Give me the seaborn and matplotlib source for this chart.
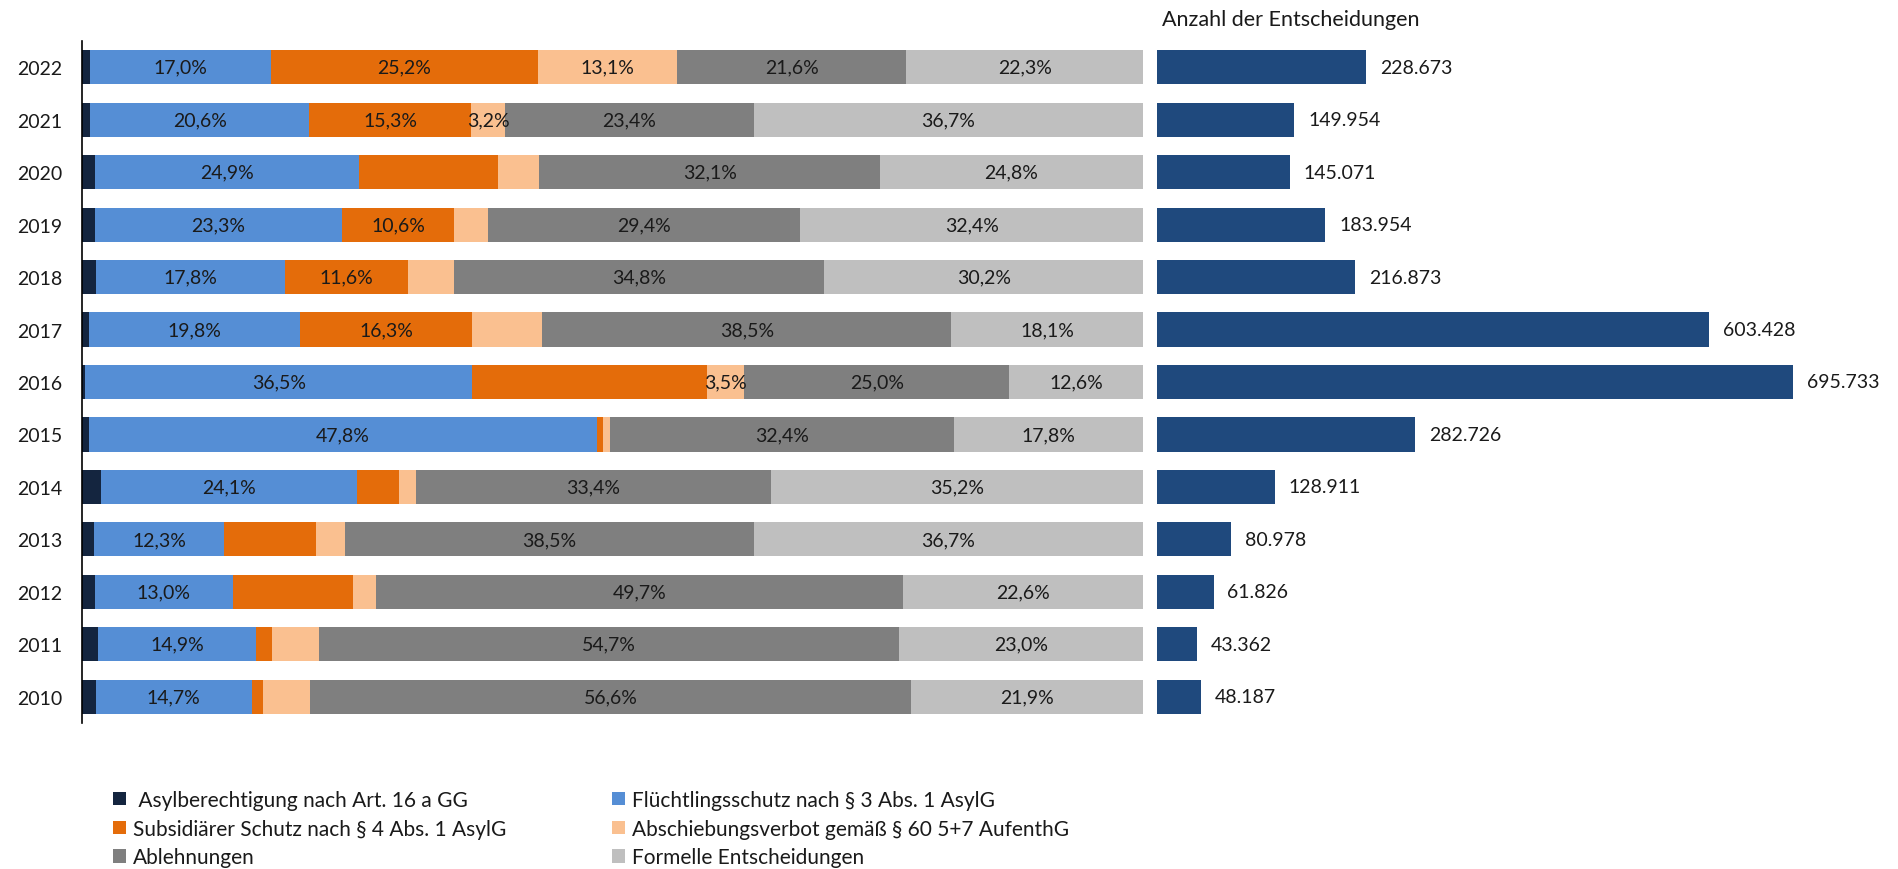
import numpy as np
import matplotlib
matplotlib.use("Agg")
import matplotlib.pyplot as plt
from matplotlib.patches import Patch
import seaborn as sns

# Decision years, newest on top
years = ["2022", "2021", "2020", "2019", "2018", "2017", "2016",
         "2015", "2014", "2013", "2012", "2011", "2010"]

# Shares of all decisions per year (%)
asyl = [0.8, 0.8, 1.2, 1.2, 1.3, 0.7, 0.3, 0.7, 1.8, 1.1, 1.2, 1.5, 1.3]
fluecht = [17.0, 20.6, 24.9, 23.3, 17.8, 19.8, 36.5, 47.8, 24.1, 12.3, 13.0, 14.9, 14.7]
subsid = [25.2, 15.3, 13.1, 10.6, 11.6, 16.3, 22.1, 0.6, 4.0, 8.7, 11.3, 1.5, 1.1]
abschieb = [13.1, 3.2, 3.9, 3.2, 4.4, 6.6, 3.5, 0.7, 1.6, 2.7, 2.2, 4.4, 4.4]
ablehn = [21.6, 23.4, 32.1, 29.4, 34.8, 38.5, 25.0, 32.4, 33.4, 38.5, 49.7, 54.7, 56.6]
formell = [22.3, 36.7, 24.8, 32.4, 30.2, 18.1, 12.6, 17.8, 35.2, 36.7, 22.6, 23.0, 21.9]

# Which segments carry a percentage label
show_asyl = [False] * 13
show_fluecht = [True] * 13
show_subsid = [True, True, False, True, True, True, False, False, False, False, False, False, False]
show_abschieb = [True, True, False, False, False, False, True, False, False, False, False, False, False]
show_ablehn = [True] * 13
show_formell = [True] * 13

# Total number of decisions per year
totals = [228673, 149954, 145071, 183954, 216873, 603428, 695733,
          282726, 128911, 80978, 61826, 43362, 48187]

names = ["Asylberechtigung nach Art. 16 a GG",
         "Flüchtlingsschutz nach § 3 Abs. 1 AsylG",
         "Subsidiärer Schutz nach § 4 Abs. 1 AsylG",
         "Abschiebungsverbot gemäß § 60 5+7 AufenthG",
         "Ablehnungen",
         "Formelle Entscheidungen"]
colors = ["#14253f", "#558ed5", "#e46c0a", "#fac090", "#7f7f7f", "#bfbfbf"]
total_color = "#1f497d"
text_color = "#1a1a1a"

sns.set_theme(style="white")
plt.rcParams["font.family"] = ["Lato", "DejaVu Sans"]

FS = 14
FS_TITLE = 15.5
FS_LEG = 15
W, H = 1898, 870
fig = plt.figure(figsize=(W / 100, H / 100), dpi=100)

top_px, bot_px = 42, 724
axL = fig.add_axes([82 / W, (H - bot_px) / H, 1061 / W, (bot_px - top_px) / H])
axR = fig.add_axes([1157 / W, (H - bot_px) / H, 733 / W, (bot_px - top_px) / H])

series = [asyl, fluecht, subsid, abschieb, ablehn, formell]
shown = [show_asyl, show_fluecht, show_subsid, show_abschieb, show_ablehn, show_formell]
cum = np.cumsum(np.array(series), axis=0)

# Stacked shares: draw cumulative totals from the outermost segment inwards
for k in reversed(range(len(series))):
    sns.barplot(x=cum[k], y=years, order=years, orient="h", color=colors[k],
                saturation=1, width=0.65, errorbar=None, linewidth=0, ax=axL)


def pct(v):
    return f"{v:.1f}".replace(".", ",") + "%"


for k, vals in enumerate(series):
    for i, v in enumerate(vals):
        if shown[k][i]:
            axL.text(cum[k][i] - v / 2, i, pct(v), ha="center", va="center",
                     fontsize=FS, color=text_color)

axL.set_xlim(0, 100)
axL.set_xticks([])
axL.set_xlabel("")
axL.set_ylabel("")
axL.tick_params(axis="y", length=0, pad=14, labelsize=FS, labelcolor=text_color)
for s in ["top", "right", "bottom"]:
    axL.spines[s].set_visible(False)
axL.spines["left"].set_color("#000000")
axL.spines["left"].set_linewidth(1.2)

# Absolute numbers of decisions
sns.barplot(x=totals, y=years, order=years, orient="h", color=total_color,
            saturation=1, width=0.65, errorbar=None, linewidth=0, ax=axR)
axR.bar_label(axR.containers[0],
              labels=[f"{t:,}".replace(",", ".") for t in totals],
              padding=10, fontsize=FS, color=text_color)
axR.set_xlim(0, 801800)
axR.set_ylim(axL.get_ylim())
axR.set_xticks([])
axR.set_yticks([])
axR.set_xlabel("")
axR.set_ylabel("")
for s in axR.spines.values():
    s.set_visible(False)

fig.text(1162 / W, 1 - 20 / H, "Anzahl der Entscheidungen", ha="left", va="center",
         fontsize=FS_TITLE, color=text_color)

# Legend in two columns
handles = [Patch(facecolor=c, edgecolor="none") for c in colors]
labels = [" " + names[0]] + names[1:]
leg_kw = dict(loc="upper left", frameon=False, fontsize=FS_LEG, handlelength=0.625,
              handleheight=0.625, handletextpad=0.35, labelspacing=0.42,
              borderpad=0, borderaxespad=0, labelcolor=text_color)
fig.legend([handles[0], handles[2], handles[4]], [labels[0], labels[2], labels[4]],
           bbox_to_anchor=(113 / W, 1 - 791 / H), **leg_kw)
fig.legend([handles[1], handles[3], handles[5]], [labels[1], labels[3], labels[5]],
           bbox_to_anchor=(612 / W, 1 - 791 / H), **leg_kw)

fig.savefig("out.png", dpi=100)
